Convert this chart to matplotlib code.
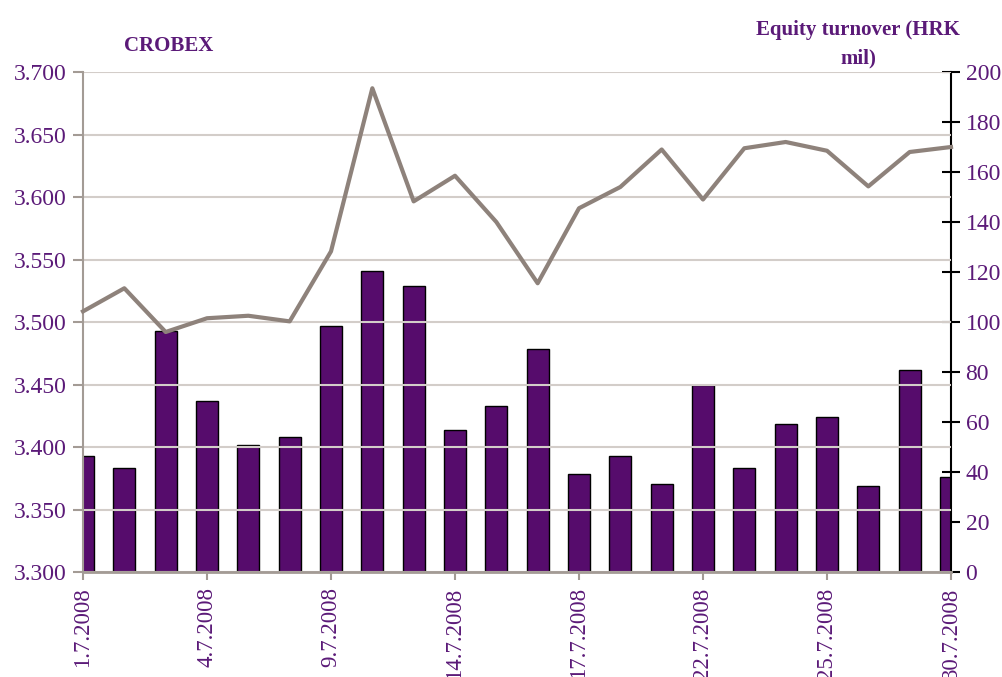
import matplotlib.pyplot as plt
import numpy as np

# trading days in July 2008
dates = ["1.7.2008", "2.7.2008", "3.7.2008", "4.7.2008", "7.7.2008", "8.7.2008",
         "9.7.2008", "10.7.2008", "11.7.2008", "14.7.2008", "15.7.2008", "16.7.2008",
         "17.7.2008", "18.7.2008", "21.7.2008", "22.7.2008", "23.7.2008", "24.7.2008",
         "25.7.2008", "28.7.2008", "29.7.2008", "30.7.2008"]
crobex = [3.5085, 3.527, 3.492, 3.503, 3.505, 3.5005, 3.5565, 3.687, 3.5965, 3.617,
          3.580, 3.531, 3.591, 3.608, 3.638, 3.598, 3.639, 3.644, 3.637, 3.6085,
          3.636, 3.640]
turnover = [46.4, 41.6, 96.5, 68.5, 50.8, 54.0, 98.4, 120.4, 114.6, 56.8, 66.4,
            89.2, 39.2, 46.4, 35.2, 74.8, 41.6, 59.2, 62.0, 34.6, 80.8, 38.0]
shown_labels = ["1.7.2008", "4.7.2008", "9.7.2008", "14.7.2008", "17.7.2008",
                "22.7.2008", "25.7.2008", "30.7.2008"]

purple_text = "#5b1a78"
bar_color = "#560c6c"
line_color = "#8e827b"
grid_color = "#d3cdc9"
serif = ["Liberation Serif", "DejaVu Serif"]

plt.rcParams["font.family"] = serif

fig = plt.figure(figsize=(10.03, 6.77), dpi=100)
ax = fig.add_axes([83 / 1003, 1 - 572 / 677, (951 - 83) / 1003, 500 / 677])
ax2 = ax.twinx()

x = np.arange(len(dates))

# bars on the right axis
ax2.bar(x, turnover, width=0.54, color=bar_color, edgecolor="black", linewidth=1, zorder=2)
ax2.set_ylim(0, 200)
ax2.set_yticks(np.arange(0, 201, 20))

# CROBEX line on the left axis, drawn above the bars
ax.set_zorder(ax2.get_zorder() + 1)
ax.patch.set_visible(False)
ax.plot(x, crobex, color=line_color, linewidth=3, zorder=3, clip_on=False)
ax.set_ylim(3.300, 3.700)
yt = np.arange(3.300, 3.7001, 0.050)
ax.set_yticks(yt)
ax.set_yticklabels([f"{v:.3f}" for v in yt])
ax.grid(axis="y", color=grid_color, linewidth=1.5, zorder=0)
ax.set_axisbelow(True)

ax.set_xlim(0, len(dates) - 1)
pos = [dates.index(d) for d in shown_labels]
ax.set_xticks(pos)
ax.set_xticklabels(shown_labels, rotation=90)

for a in (ax, ax2):
    a.spines["top"].set_visible(False)
ax.spines["right"].set_visible(False)
ax.spines["left"].set_color("#a39b95")
ax.spines["left"].set_linewidth(1.5)
ax.spines["bottom"].set_color("#a39b95")
ax.spines["bottom"].set_linewidth(2)
ax2.spines["left"].set_visible(False)
ax2.spines["bottom"].set_visible(False)
ax2.spines["right"].set_color("black")
ax2.spines["right"].set_linewidth(1.5)

ax.tick_params(axis="y", colors="#a39b95", labelcolor=purple_text, labelsize=17,
               length=7, width=1.5, pad=5)
ax.tick_params(axis="x", colors="#a39b95", labelcolor=purple_text, labelsize=16.5,
               length=6, width=1.5, pad=5)
ax2.tick_params(axis="y", direction="inout", colors="black", labelcolor=purple_text,
                labelsize=17, length=13, width=1.5, pad=4)

fig.text(169 / 1003, 1 - 46 / 677, "CROBEX", color=purple_text, fontsize=15,
         fontweight="bold", ha="center", va="center")
fig.text(858 / 1003, 1 - 44 / 677, "Equity turnover (HRK\nmil)", color=purple_text,
         fontsize=15, fontweight="bold", ha="center", va="center", linespacing=1.6)

fig.savefig("out.png", dpi=100)
